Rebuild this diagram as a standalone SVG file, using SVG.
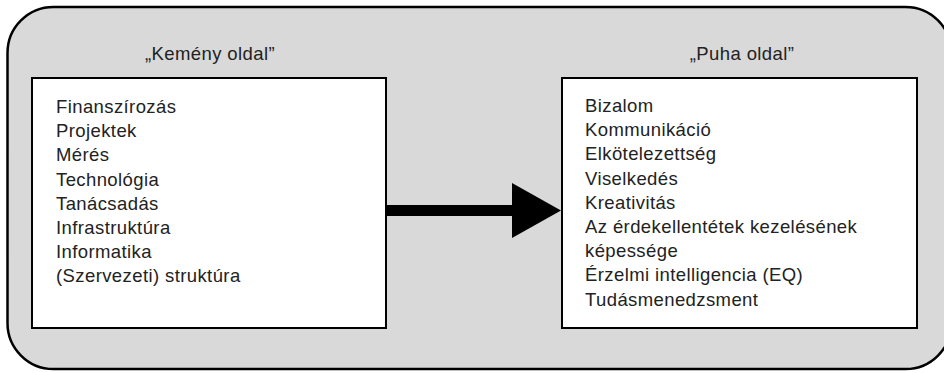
<svg xmlns="http://www.w3.org/2000/svg" width="944" height="373" viewBox="0 0 944 373">
  <style>
    .frame { fill: #d9d9d9; stroke: #000; stroke-width: 2.5; }
    .box { fill: #fff; stroke: #000; stroke-width: 2; }
    .title { font-family: "Liberation Sans", Arial, sans-serif; font-size: 18.5px; letter-spacing: 0.4px; fill: #222; text-anchor: middle; }
    .item { font-family: "Liberation Sans", Arial, sans-serif; font-size: 18.5px; letter-spacing: 0.4px; fill: #222; }
  </style>
  <!-- background frame (runs past the right edge of the canvas) -->
  <rect class="frame" x="7.5" y="7" width="944" height="362" rx="46" ry="46"/>

  <g id="hard-side">
    <text class="title" x="210" y="60">„Kemény oldal”</text>
    <rect class="box" x="32" y="78" width="354" height="250"/>
    <text class="item" x="56" y="113">
      <tspan x="56" y="113">Finanszírozás</tspan>
      <tspan x="56" y="137.2">Projektek</tspan>
      <tspan x="56" y="161.4">Mérés</tspan>
      <tspan x="56" y="185.6">Technológia</tspan>
      <tspan x="56" y="209.8">Tanácsadás</tspan>
      <tspan x="56" y="234">Infrastruktúra</tspan>
      <tspan x="56" y="258.2">Informatika</tspan>
      <tspan x="56" y="282.4">(Szervezeti) struktúra</tspan>
    </text>
  </g>

  <g id="soft-side">
    <text class="title" x="742" y="60">„Puha oldal”</text>
    <rect class="box" x="562" y="78" width="355" height="250"/>
    <text class="item" x="585" y="112">
      <tspan x="585" y="112">Bizalom</tspan>
      <tspan x="585" y="136.2">Kommunikáció</tspan>
      <tspan x="585" y="160.4">Elkötelezettség</tspan>
      <tspan x="585" y="184.6">Viselkedés</tspan>
      <tspan x="585" y="208.8">Kreativitás</tspan>
      <tspan x="585" y="233">Az érdekellentétek kezelésének</tspan>
      <tspan x="585" y="257.2">képessége</tspan>
      <tspan x="585" y="281.4">Érzelmi intelligencia (EQ)</tspan>
      <tspan x="585" y="305.6">Tudásmenedzsment</tspan>
    </text>
  </g>

  <g id="connectors">
    <rect x="387" y="205" width="127" height="11" fill="#000"/>
    <polygon points="512,183 561,210.5 512,238" fill="#000"/>
  </g>
</svg>
